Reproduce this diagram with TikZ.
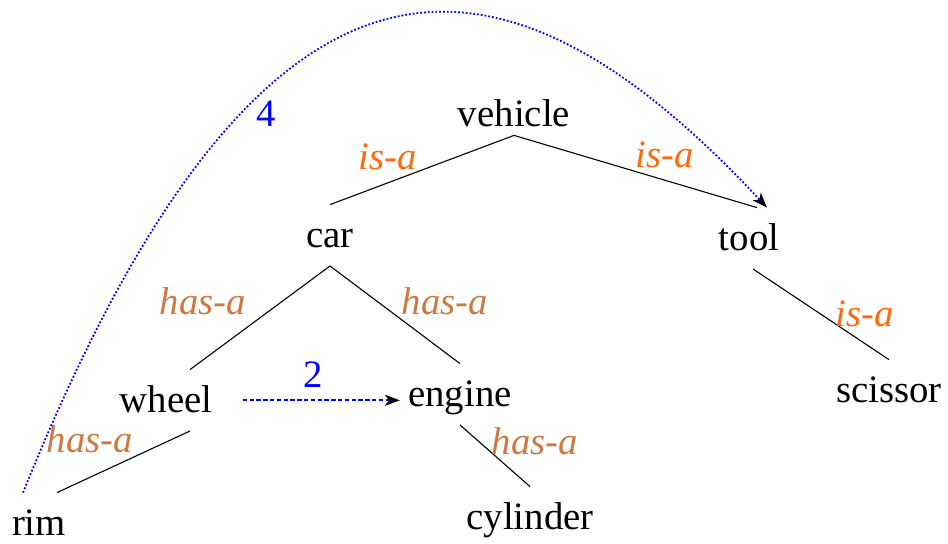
\documentclass[tikz,border=0pt]{standalone}
\usepackage{fontspec}
\setmainfont{Liberation Serif}
\definecolor{isaOrange}{HTML}{FF6A0D}
\definecolor{hasaBrown}{HTML}{CD7A42}
\definecolor{hopBlue}{HTML}{0000FF}
\usetikzlibrary{arrows.meta, positioning}

\begin{document}
\begin{tikzpicture}[
    x=0.5pt, y=-0.5pt,
    concept/.style={
      font=\fontsize{19.4}{23}\selectfont,
      text height=17.5pt,
      text depth=4.8pt,
      inner sep=4pt,
      anchor=base,
    },
    rel/.style={font=\fontsize{19.4}{23}\selectfont\itshape, inner sep=0pt, anchor=base},
    isa/.style={rel, text=isaOrange},
    hasa/.style={rel, text=hasaBrown},
    hopnum/.style={font=\fontsize{19.4}{23}\selectfont, text=hopBlue, inner sep=0pt, anchor=base},
    link/.style={black, line width=0.55pt},
    hop/.style={hopBlue, line width=0.9pt, -{Stealth[length=7.5pt, width=5.5pt, inset=2pt, color=black]}},
  ]
    \useasboundingbox (0,0) rectangle (948,544);

    % concepts
    \node[concept] (vehicle) at (514,127) {vehicle};
    \node[concept] (car) at (330,248) {car};
    \node[concept] (tool) at (749,251) {tool};
    \node[concept] (wheel) at (166,413) {wheel};
    \node[concept] (engine) at (460,407) {engine};
    \node[concept] (scissor) at (889,403) {scissor};
    \node[concept] (rim) at (39,536) {rim};
    \node[concept] (cylinder) at (530,530) {cylinder};

    % tree
    \draw[link] ([yshift=4.8pt]vehicle.south) -- (car.north);
    \draw[link] ([yshift=4.8pt]vehicle.south) -- ([xshift=4pt]tool.north);
    \draw[link] (car.south) -- ([xshift=12pt]wheel.north);
    \draw[link] (car.south) -- (engine.north);
    \draw[link] ([xshift=12pt]wheel.south) -- ([xshift=9pt]rim.north);
    \draw[link] (engine.south) -- (cylinder.north);
    \draw[link] ([xshift=2pt]tool.south) -- (scissor.north);

    % relation labels
    \node[isa] (isaCar) at (388,170) {is-a};
    \node[isa] (isaTool) at (665,168) {is-a};
    \node[hasa] (hasaWheel) at (203,315) {has-a};
    \node[hasa] (hasaEngine) at (445,315) {has-a};
    \node[hasa] (hasaRim) at (90,453) {has-a};
    \node[hasa] (hasaCylinder) at (535,455) {has-a};
    \node[isa] (isaScissor) at (865,327) {is-a};

    % hops
    \draw[hop, dash pattern=on 2.2pt off 1.2pt] ([xshift=11pt]wheel.east) -- (engine.west |- wheel.east);
    \draw[hop, densely dotted] ([xshift=-8pt]rim.north) .. controls +(-68:640) and +(-133:390) .. ([xshift=9pt]tool.north);
    \node[hopnum] (hopTwo) at (313,388) {2};
    \node[hopnum] (hopFour) at (266,127) {4};
  \end{tikzpicture}
\end{document}
